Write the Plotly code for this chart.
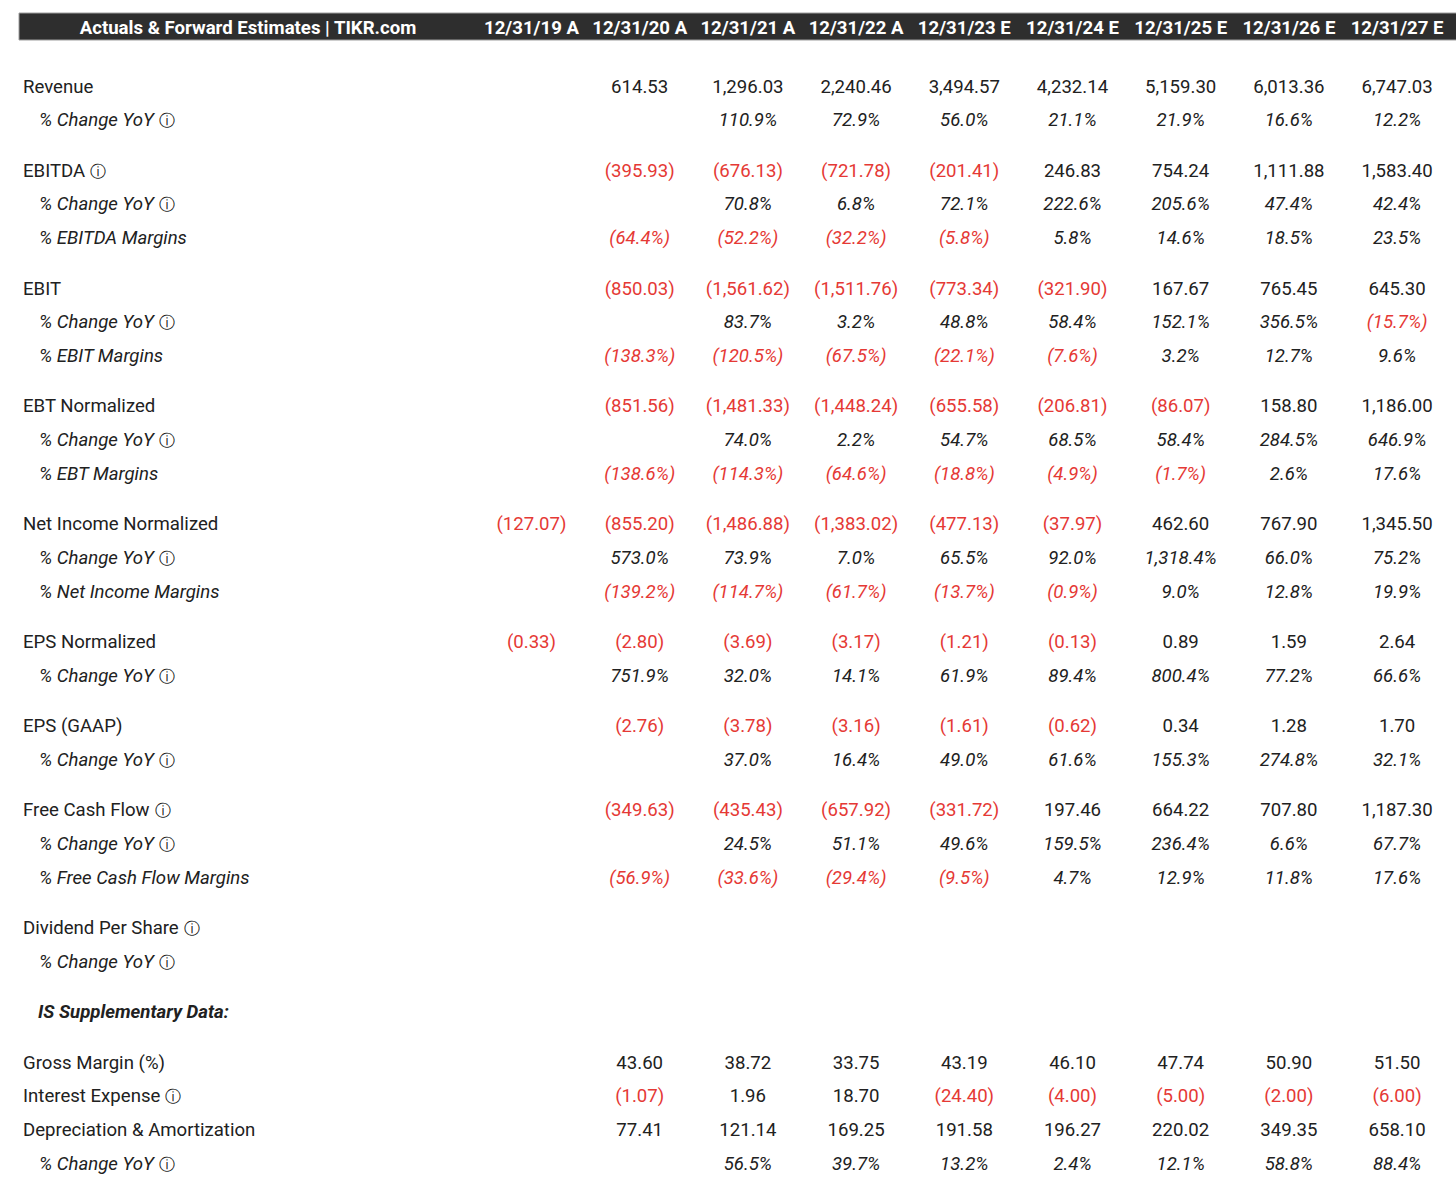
import plotly.graph_objects as go

# column headers
periods = ["12/31/19 A", "12/31/20 A", "12/31/21 A", "12/31/22 A", "12/31/23 E",
           "12/31/24 E", "12/31/25 E", "12/31/26 E", "12/31/27 E"]
title_text = "Actuals & Forward Estimates | TIKR.com"

# values (None = blank cell)
revenue = [None, 614.53, 1296.03, 2240.46, 3494.57, 4232.14, 5159.30, 6013.36, 6747.03]
revenue_yoy = [None, None, 110.9, 72.9, 56.0, 21.1, 21.9, 16.6, 12.2]
ebitda = [None, -395.93, -676.13, -721.78, -201.41, 246.83, 754.24, 1111.88, 1583.40]
ebitda_yoy = [None, None, 70.8, 6.8, 72.1, 222.6, 205.6, 47.4, 42.4]
ebitda_margin = [None, -64.4, -52.2, -32.2, -5.8, 5.8, 14.6, 18.5, 23.5]
ebit = [None, -850.03, -1561.62, -1511.76, -773.34, -321.90, 167.67, 765.45, 645.30]
ebit_yoy = [None, None, 83.7, 3.2, 48.8, 58.4, 152.1, 356.5, -15.7]
ebit_margin = [None, -138.3, -120.5, -67.5, -22.1, -7.6, 3.2, 12.7, 9.6]
ebt = [None, -851.56, -1481.33, -1448.24, -655.58, -206.81, -86.07, 158.80, 1186.00]
ebt_yoy = [None, None, 74.0, 2.2, 54.7, 68.5, 58.4, 284.5, 646.9]
ebt_margin = [None, -138.6, -114.3, -64.6, -18.8, -4.9, -1.7, 2.6, 17.6]
net_income = [-127.07, -855.20, -1486.88, -1383.02, -477.13, -37.97, 462.60, 767.90, 1345.50]
net_income_yoy = [None, 573.0, 73.9, 7.0, 65.5, 92.0, 1318.4, 66.0, 75.2]
net_income_margin = [None, -139.2, -114.7, -61.7, -13.7, -0.9, 9.0, 12.8, 19.9]
eps_norm = [-0.33, -2.80, -3.69, -3.17, -1.21, -0.13, 0.89, 1.59, 2.64]
eps_norm_yoy = [None, 751.9, 32.0, 14.1, 61.9, 89.4, 800.4, 77.2, 66.6]
eps_gaap = [None, -2.76, -3.78, -3.16, -1.61, -0.62, 0.34, 1.28, 1.70]
eps_gaap_yoy = [None, None, 37.0, 16.4, 49.0, 61.6, 155.3, 274.8, 32.1]
fcf = [None, -349.63, -435.43, -657.92, -331.72, 197.46, 664.22, 707.80, 1187.30]
fcf_yoy = [None, None, 24.5, 51.1, 49.6, 159.5, 236.4, 6.6, 67.7]
fcf_margin = [None, -56.9, -33.6, -29.4, -9.5, 4.7, 12.9, 11.8, 17.6]
dividend = [None] * 9
dividend_yoy = [None] * 9
gross_margin = [None, 43.60, 38.72, 33.75, 43.19, 46.10, 47.74, 50.90, 51.50]
interest_expense = [None, -1.07, 1.96, 18.70, -24.40, -4.00, -5.00, -2.00, -6.00]
dep_amort = [None, 77.41, 121.14, 169.25, 191.58, 196.27, 220.02, 349.35, 658.10]
dep_amort_yoy = [None, None, 56.5, 39.7, 13.2, 2.4, 12.1, 58.8, 88.4]

# row groups: (label, values, kind, info icon)
groups = [
    [("Revenue", revenue, "num", False), ("% Change YoY", revenue_yoy, "pct", True)],
    [("EBITDA", ebitda, "num", True), ("% Change YoY", ebitda_yoy, "pct", True),
     ("% EBITDA Margins", ebitda_margin, "pct", False)],
    [("EBIT", ebit, "num", False), ("% Change YoY", ebit_yoy, "pct", True),
     ("% EBIT Margins", ebit_margin, "pct", False)],
    [("EBT Normalized", ebt, "num", False), ("% Change YoY", ebt_yoy, "pct", True),
     ("% EBT Margins", ebt_margin, "pct", False)],
    [("Net Income Normalized", net_income, "num", False), ("% Change YoY", net_income_yoy, "pct", True),
     ("% Net Income Margins", net_income_margin, "pct", False)],
    [("EPS Normalized", eps_norm, "num", False), ("% Change YoY", eps_norm_yoy, "pct", True)],
    [("EPS (GAAP)", eps_gaap, "num", False), ("% Change YoY", eps_gaap_yoy, "pct", True)],
    [("Free Cash Flow", fcf, "num", True), ("% Change YoY", fcf_yoy, "pct", True),
     ("% Free Cash Flow Margins", fcf_margin, "pct", False)],
    [("Dividend Per Share", dividend, "num", True), ("% Change YoY", dividend_yoy, "pct", True)],
    [("IS Supplementary Data:", None, "title", False)],
    [("Gross Margin (%)", gross_margin, "num", False), ("Interest Expense", interest_expense, "num", True),
     ("Depreciation & Amortization", dep_amort, "num", False), ("% Change YoY", dep_amort_yoy, "pct", True)],
]

BLACK = "#212121"
RED = "#e53935"
FONT = "Roboto"
SIZE = 18.6
ICON = "<span style='font-family:DejaVu Sans;font-size:16px;font-style:normal;fill:#111'> \u24d8</span>"

col_x = [531.5 + i * 108.2 for i in range(len(periods))]
y0, pitch = 88, 33.66


def fmt(v, kind):
    if v is None:
        return ""
    if kind == "pct":
        s = f"{abs(v):,.1f}%"
    else:
        s = f"{abs(v):,.2f}"
    return f"({s})" if v < 0 else s


fig = go.Figure()

# header bar
fig.add_shape(type="rect", x0=19, x1=1470, y0=13, y1=40, fillcolor="#2e2e2e",
              line=dict(color="#9e9e9e", width=1), layer="below")
fig.add_trace(go.Scatter(
    x=[248], y=[29], mode="text", text=[title_text], textposition="middle center",
    textfont=dict(family=FONT, size=18.6, color="white", weight="bold"),
    hoverinfo="skip"))
fig.add_trace(go.Scatter(
    x=col_x, y=[29] * len(periods), mode="text", text=periods, textposition="middle center",
    textfont=dict(family=FONT, size=18.6, color="white", weight="bold"),
    hoverinfo="skip"))

k = 0
for g, rows in enumerate(groups):
    for label, values, kind, icon in rows:
        y = y0 + pitch * (k + g / 2)
        k += 1
        if kind == "title":
            fig.add_trace(go.Scatter(
                x=[38], y=[y], mode="text", text=[label], textposition="middle right",
                textfont=dict(family=FONT, size=SIZE, color=BLACK, weight="bold", style="italic"),
                hoverinfo="skip"))
            continue
        sub = kind == "pct"
        fig.add_trace(go.Scatter(
            x=[39 if sub else 23], y=[y], mode="text",
            text=[label + (ICON if icon else "")], textposition="middle right",
            textfont=dict(family=FONT, size=SIZE, color=BLACK, style="italic" if sub else "normal"),
            hoverinfo="skip"))
        fig.add_trace(go.Scatter(
            x=col_x, y=[y] * len(col_x), mode="text",
            text=[fmt(v, kind) for v in values], textposition="middle center",
            textfont=dict(family=FONT, size=SIZE, style="italic" if sub else "normal",
                          color=[RED if (v is not None and v < 0) else BLACK for v in values]),
            hoverinfo="skip"))

fig.update_layout(
    width=1456, height=1190,
    margin=dict(l=0, r=0, t=0, b=0),
    paper_bgcolor="white", plot_bgcolor="white",
    showlegend=False,
    xaxis=dict(range=[0, 1456], visible=False, fixedrange=True),
    yaxis=dict(range=[1190, 0], visible=False, fixedrange=True),
)

fig.write_html("out.html", config={"displayModeBar": False},
               post_script="document.body.style.margin='0';")
